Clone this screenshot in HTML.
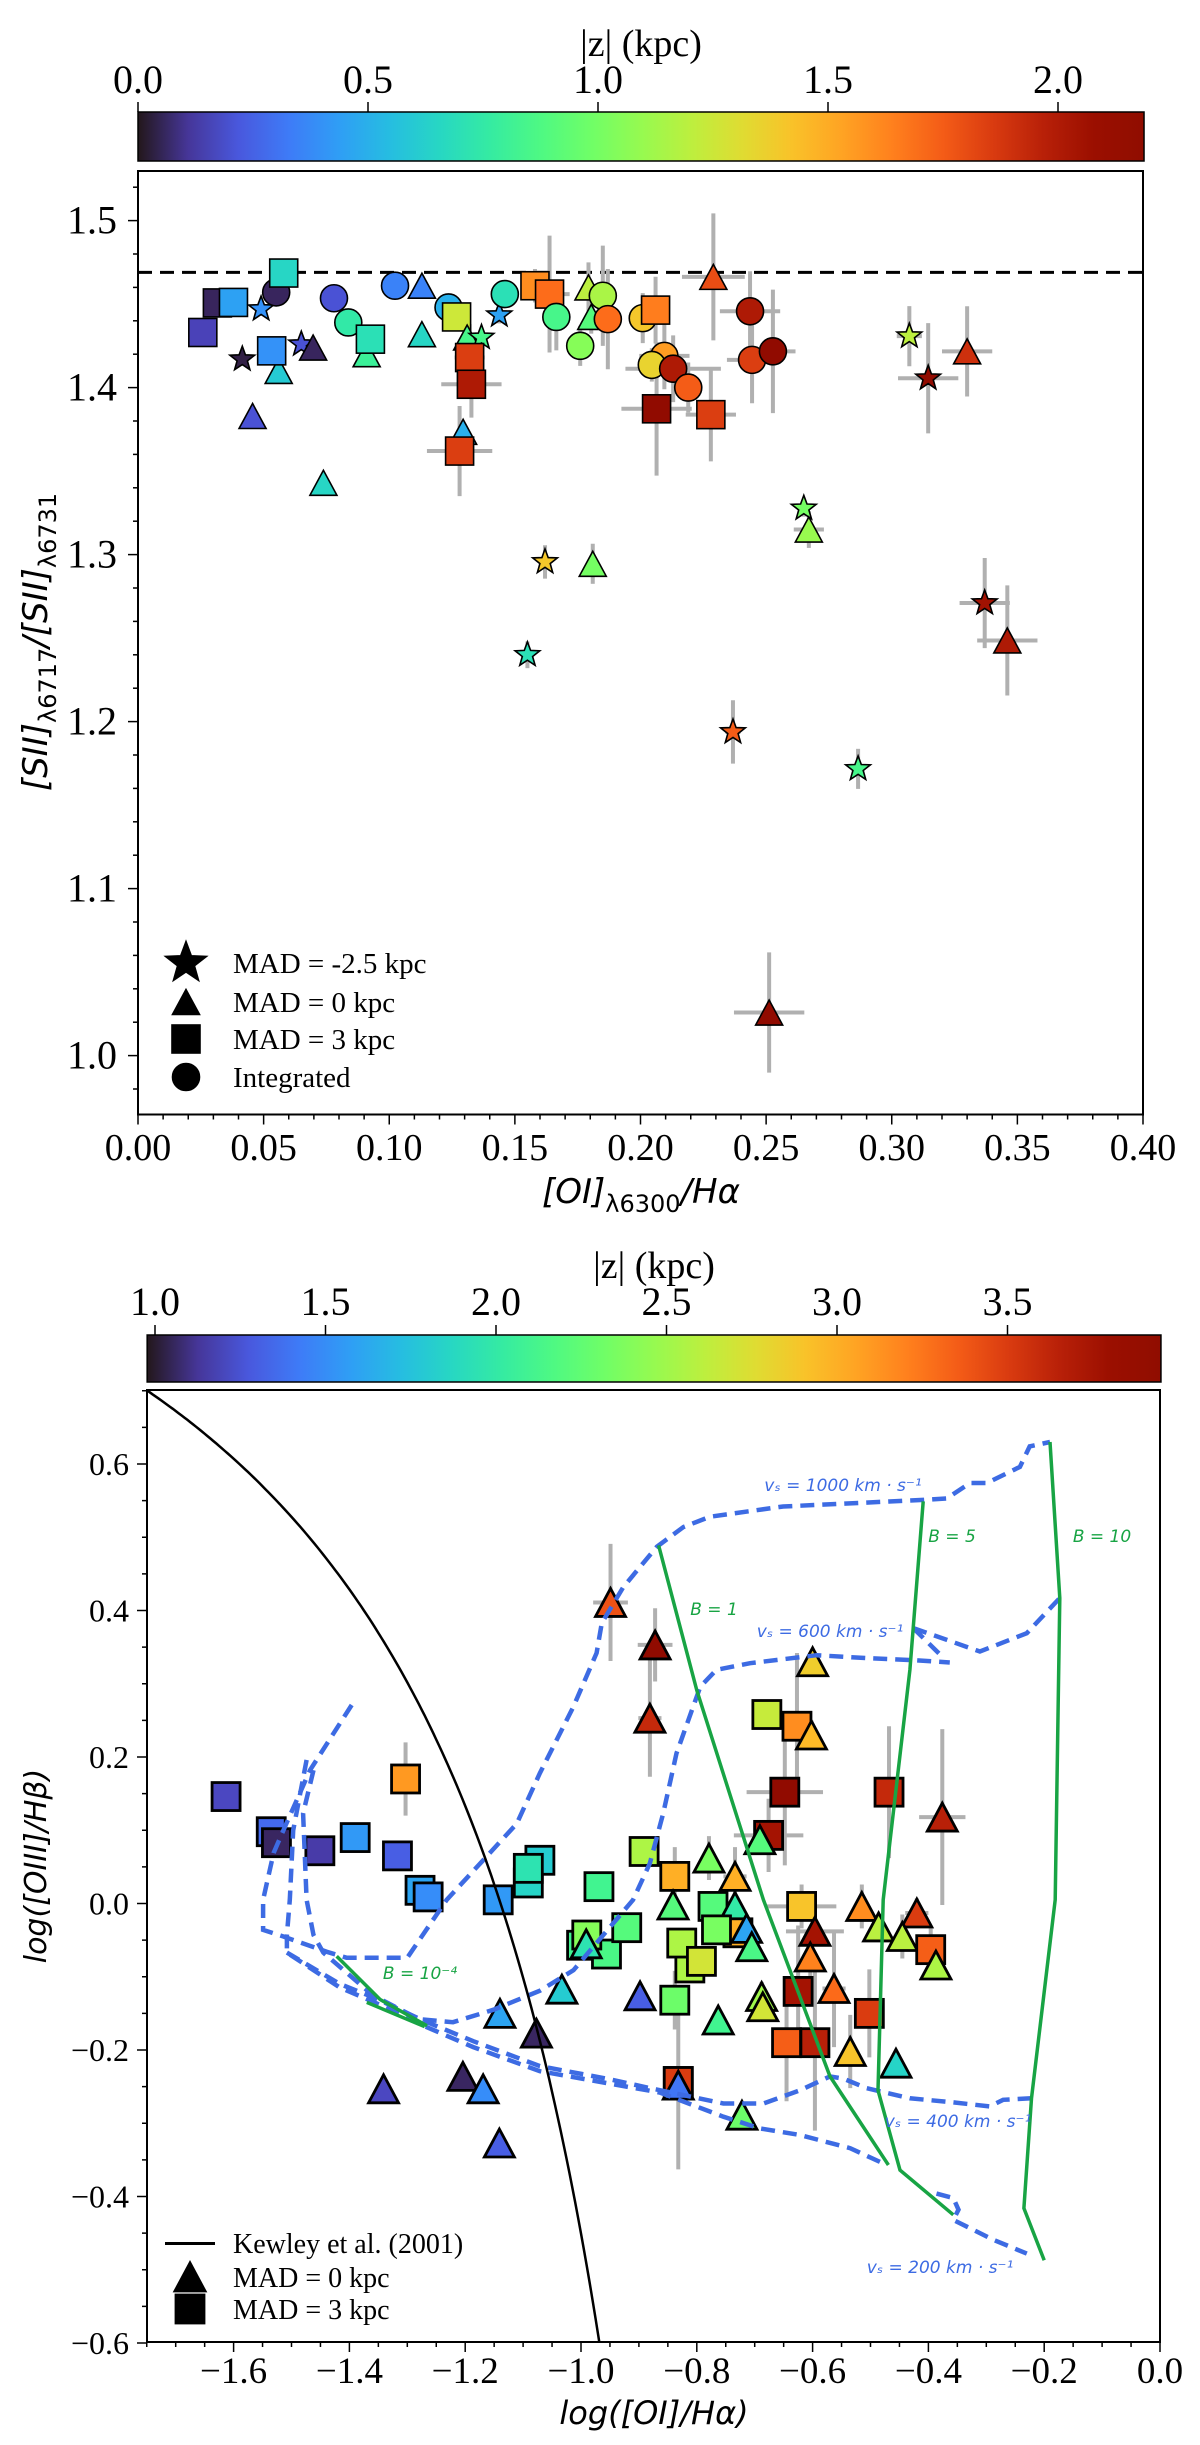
<!DOCTYPE html>
<html><head><meta charset="utf-8"><title>[SII] ratio and [OI]/Ha diagnostics</title>
<style>html,body{margin:0;padding:0;background:#fff}svg{display:block}</style></head>
<body>
<svg id="fig" xmlns="http://www.w3.org/2000/svg" width="1200" height="2445" viewBox="0 0 1200 2445">
<defs>
<linearGradient id="cb1" x1="0" x2="1" y1="0" y2="0"></linearGradient>
<linearGradient id="cb2" x1="0" x2="1" y1="0" y2="0"></linearGradient>
<clipPath id="clip1"><rect x="138" y="171" width="1005" height="943.5"/></clipPath>
<clipPath id="clip2"><rect x="147" y="1390" width="1013" height="952"/></clipPath>
</defs>
</svg>
<script>
// ---------- Panel 1 data ----------
const p1Shape = ['s','s','s','*','o','s','*','^','s','*','^','^','o','o','^','s','^','o','^','^','o','s','^','*','^','s','s','s','*','o','s','s','o','o','^','^','*','^','*','o','o','o','s','^','o','o','o','o','o','o','o','s','s','*','*','^','*','^','*','^','*','*','^'];
const p1X = [0.0258,0.0316,0.038,0.049,0.055,0.058,0.0415,0.056,0.0532,0.065,0.0697,0.0456,0.078,0.0837,0.091,0.0925,0.0738,0.1023,0.113,0.113,0.1236,0.1268,0.131,0.1367,0.1294,0.132,0.1327,0.128,0.1438,0.146,0.158,0.1638,0.1665,0.176,0.1793,0.1804,0.162,0.181,0.155,0.185,0.187,0.2009,0.206,0.229,0.2436,0.2095,0.2045,0.213,0.219,0.2444,0.2527,0.2064,0.228,0.307,0.3145,0.330,0.265,0.267,0.337,0.346,0.2368,0.2866,0.2512];
const p1Y = [1.433,1.4507,1.451,1.447,1.457,1.4686,1.417,1.41,1.422,1.426,1.424,1.383,1.4535,1.439,1.42,1.429,1.343,1.461,1.461,1.432,1.448,1.4423,1.43,1.43,1.3735,1.418,1.402,1.362,1.4434,1.456,1.461,1.456,1.4423,1.425,1.46,1.4423,1.2956,1.2945,1.24,1.455,1.441,1.4416,1.4464,1.4663,1.4457,1.419,1.4136,1.4113,1.400,1.4166,1.4217,1.3873,1.3838,1.4308,1.4056,1.4217,1.3277,1.315,1.271,1.2486,1.1938,1.1717,1.0258];
const p1Z = [0.15,0.05,0.45,0.4,0.05,0.65,0.03,0.6,0.4,0.2,0.05,0.2,0.2,0.75,0.8,0.7,0.65,0.35,0.35,0.65,0.5,1.25,0.85,0.85,0.5,1.85,2.0,1.85,0.45,0.7,1.6,1.7,0.85,1.05,1.2,0.9,1.4,1.0,0.7,1.15,1.7,1.4,1.65,1.8,2.0,1.55,1.35,2.0,1.75,1.85,2.15,2.15,1.85,1.2,2.15,1.9,1.0,1.1,2.05,2.0,1.75,0.85,2.15];
const p1XErr = [0,0,0,0,0,0,0,0,0,0,0,0,0,0,0,0,0,0,0,0,0,0,0,0,0,0.006,0.012,0.013,0,0,0,0.008,0,0,0,0,0,0,0,0,0,0,0,0.0125,0.012,0.01,0,0.019,0,0.01,0.009,0.014,0.01,0.005,0.012,0.01,0,0.006,0.01,0.012,0.003,0.002,0.014];
const p1YErr = [0.003,0.003,0.003,0.004,0.003,0.003,0.004,0.004,0.004,0.004,0.004,0.004,0.003,0.004,0.004,0.004,0.004,0.003,0.004,0.005,0.004,0.005,0.006,0.006,0.006,0.02,0.02,0.027,0.005,0.006,0.01,0.035,0.02,0.012,0.015,0.01,0.01,0.012,0.008,0.03,0.03,0.015,0.02,0.038,0.024,0.02,0.01,0.02,0.015,0.026,0.037,0.04,0.028,0.018,0.033,0.027,0.005,0.011,0.027,0.033,0.019,0.012,0.036];
const p1XTicks = [0.00,0.05,0.10,0.15,0.20,0.25,0.30,0.35,0.40];
const p1XTickLabels = ['0.00','0.05','0.10','0.15','0.20','0.25','0.30','0.35','0.40'];
const p1YTicks = [1.0,1.1,1.2,1.3,1.4,1.5];
const p1YTickLabels = ['1.0','1.1','1.2','1.3','1.4','1.5'];
const p1RefLine = [1.469];
const cb1Ticks = [0.0,0.5,1.0,1.5,2.0];
const cb1TickLabels = ['0.0','0.5','1.0','1.5','2.0'];

// ---------- Panel 2 data ----------
const p2Shape = ['s','s','s','s','s','s','s','s','s','s','s','s','s','s','^','^','^','s','^','^','^','^','^','^','^','^','s','s','s','s','^','^','s','s','^','s','s','^','s','^','^','s','^','^','s','^','s','^','^','^','^','s','^','s','s','^','^','^','^','s','s','s','s','s','^','^','^','s','^','s','s','s','^','^','s','^','^'];
const p2X = [-1.613,-1.535,-1.526,-1.451,-1.390,-1.317,-1.303,-1.278,-1.264,-1.143,-1.091,-1.071,-1.091,-0.969,-0.949,-0.872,-0.881,-0.891,-1.140,-1.033,-1.077,-1.341,-1.204,-1.169,-1.141,-0.898,-0.999,-0.956,-0.990,-0.921,-0.991,-0.600,-0.679,-0.627,-0.602,-0.648,-0.468,-0.376,-0.676,-0.691,-0.779,-0.838,-0.734,-0.841,-0.772,-0.734,-0.619,-0.515,-0.420,-0.486,-0.445,-0.396,-0.387,-0.729,-0.766,-0.714,-0.705,-0.596,-0.604,-0.812,-0.826,-0.792,-0.838,-0.625,-0.763,-0.688,-0.686,-0.502,-0.563,-0.645,-0.596,-0.832,-0.535,-0.456,-0.832,-0.832,-0.722];
const p2Y = [0.146,0.098,0.083,0.072,0.090,0.065,0.170,0.018,0.009,0.005,0.028,0.059,0.048,0.023,0.411,0.353,0.253,0.071,-0.150,-0.117,-0.177,-0.253,-0.236,-0.253,-0.327,-0.126,-0.057,-0.069,-0.043,-0.033,-0.055,0.330,0.258,0.242,0.230,0.152,0.152,0.118,0.093,0.087,0.062,0.037,0.037,-0.002,-0.004,-0.004,-0.004,-0.004,-0.013,-0.032,-0.045,-0.063,-0.084,-0.040,-0.036,-0.034,-0.059,-0.038,-0.073,-0.088,-0.054,-0.079,-0.132,-0.120,-0.159,-0.127,-0.141,-0.150,-0.116,-0.190,-0.190,-0.243,-0.202,-0.218,-0.243,-0.248,-0.289];
const p2Z = [1.2,1.35,1.05,1.15,1.55,1.3,3.1,1.6,1.5,1.55,1.85,1.8,1.95,2.1,3.4,3.9,3.6,2.55,1.6,1.8,1.05,1.2,1.05,1.5,1.3,1.3,2.1,2.15,2.4,2.2,1.95,2.85,2.65,3.15,2.95,3.9,3.6,3.65,3.75,2.2,2.35,3.0,3.0,2.2,2.2,2.0,2.9,3.15,3.5,2.6,2.6,3.35,2.55,3.0,2.35,1.6,2.15,3.75,3.2,2.55,2.55,2.7,2.3,3.75,2.1,2.5,2.7,3.5,3.3,3.35,3.65,3.5,2.9,1.85,3.5,1.4,2.3];
const p2XErr = [0,0,0,0,0,0,0,0,0,0,0,0,0,0,0.03,0.03,0.02,0,0,0,0,0,0,0,0,0,0,0,0,0,0,0,0,0.02,0,0.066,0.025,0.04,0.06,0,0,0,0.02,0,0,0,0.06,0,0.02,0,0,0.02,0,0,0,0,0,0.05,0,0,0,0,0,0,0,0,0,0.02,0.02,0,0,0,0,0,0,0,0];
const p2YErr = [0,0,0,0,0,0,0.05,0,0,0,0,0,0,0,0.08,0.05,0.08,0,0,0,0,0,0,0,0,0,0,0,0,0,0,0,0.02,0.1,0.02,0.1,0.09,0.12,0.05,0,0.03,0.04,0.04,0,0,0,0.03,0.03,0.02,0,0.03,0.03,0.02,0,0,0,0,0.02,0.03,0.02,0.02,0.02,0.04,0.09,0,0.02,0.02,0.06,0.08,0.08,0.12,0.02,0.05,0,0.12,0,0];
const p2XTicks = [-1.6,-1.4,-1.2,-1.0,-0.8,-0.6,-0.4,-0.2,0.0];
const p2XTickLabels = ['\u22121.6','\u22121.4','\u22121.2','\u22121.0','\u22120.8','\u22120.6','\u22120.4','\u22120.2','0.0'];
const p2YTicks = [-0.6,-0.4,-0.2,0.0,0.2,0.4,0.6];
const p2YTickLabels = ['\u22120.6','\u22120.4','\u22120.2','0.0','0.2','0.4','0.6'];
const cb2Ticks = [1.0,1.5,2.0,2.5,3.0,3.5];
const cb2TickLabels = ['1.0','1.5','2.0','2.5','3.0','3.5'];
// Shock model grid curves (data coordinates)
const modelV1000 = [[-1.396,0.271],[-1.468,0.182],[-1.514,0.100],[-1.531,0.069],[-1.549,0.005],[-1.549,-0.036],[-1.514,-0.045],[-1.439,-0.066],[-1.405,-0.074],[-1.30,-0.074],[-1.232,0.005],[-1.169,0.059],[-1.111,0.109],[-1.071,0.178],[-1.013,0.269],[-0.973,0.342],[-0.964,0.383],[-0.927,0.432],[-0.869,0.487],[-0.823,0.514],[-0.777,0.528],[-0.651,0.542],[-0.409,0.551],[-0.368,0.553],[-0.328,0.574],[-0.299,0.574],[-0.242,0.596],[-0.225,0.624],[-0.190,0.630]];
const modelV600 = [[-1.462,0.182],[-1.480,0.123],[-1.474,0.005],[-1.462,-0.043],[-1.445,-0.067],[-1.36,-0.125],[-1.28,-0.158],[-1.221,-0.162],[-1.151,-0.145],[-1.071,-0.119],[-1.013,-0.091],[-0.910,0.005],[-0.881,0.055],[-0.858,0.123],[-0.835,0.205],[-0.794,0.296],[-0.766,0.319],[-0.708,0.328],[-0.593,0.339],[-0.507,0.335],[-0.420,0.332],[-0.363,0.329]];
const modelV600b = [[-0.426,0.376],[-0.311,0.344],[-0.230,0.369],[-0.173,0.417]];
const modelV600c = [[-0.426,0.376],[-0.380,0.340]];
const modelV400 = [[-1.508,-0.067],[-1.416,-0.110],[-1.359,-0.128],[-1.272,-0.160],[-1.186,-0.188],[-1.071,-0.222],[-0.950,-0.240],[-0.881,-0.252],[-0.754,-0.273],[-0.685,-0.273],[-0.622,-0.255],[-0.570,-0.236],[-0.547,-0.239],[-0.507,-0.252],[-0.432,-0.266],[-0.363,-0.271],[-0.294,-0.277],[-0.271,-0.268],[-0.222,-0.266]];
const modelV200 = [[-1.474,0.196],[-1.497,0.100],[-1.503,0.005],[-1.508,-0.043],[-1.508,-0.067],[-1.416,-0.115],[-1.359,-0.134],[-1.272,-0.167],[-1.186,-0.196],[-1.071,-0.229],[-0.864,-0.258],[-0.754,-0.291],[-0.691,-0.307],[-0.622,-0.316],[-0.535,-0.334],[-0.472,-0.357]];
const modelV200b = [[-0.386,-0.396],[-0.357,-0.402],[-0.348,-0.418],[-0.357,-0.432],[-0.288,-0.459],[-0.230,-0.478]];
const modelB1 = [[-0.866,0.489],[-0.800,0.291],[-0.685,0.005],[-0.570,-0.236],[-0.469,-0.357]];
const modelB5 = [[-0.409,0.549],[-0.432,0.319],[-0.478,0.005],[-0.487,-0.255],[-0.449,-0.364],[-0.357,-0.425]];
const modelB10 = [[-0.190,0.630],[-0.173,0.417],[-0.181,0.005],[-0.222,-0.266],[-0.235,-0.416],[-0.200,-0.487]];
const modelBmin = [[-1.422,-0.072],[-1.347,-0.131],[-1.266,-0.167]];
const modelBmin2 = [[-1.37,-0.135],[-1.27,-0.168]];

// ---------- helpers ----------
const NS = 'http://www.w3.org/2000/svg';
const svg = document.getElementById('fig');
function mk(tag, attrs, parent) {
  const e = document.createElementNS(NS, tag);
  for (const k in attrs) e.setAttribute(k, attrs[k]);
  (parent || svg).appendChild(e);
  return e;
}
function turbo(t) {
  t = Math.max(0, Math.min(1, t));
  const r = 0.13572138 + t*(4.61539260 + t*(-42.66032258 + t*(132.13108234 + t*(-152.94239396 + t*59.28637943))));
  const g = 0.09140261 + t*(2.19418839 + t*(4.84296658 + t*(-14.18503333 + t*(4.27729857 + t*2.82956604))));
  const b = 0.10667330 + t*(12.64194608 + t*(-60.58204836 + t*(110.36276771 + t*(-89.90310912 + t*27.34824973))));
  const c = v => Math.round(255*Math.max(0, Math.min(1, v)));
  return 'rgb(' + c(r) + ',' + c(g) + ',' + c(b) + ')';
}
// axis functions
const X1 = v => 138 + 2512.5*v;
const Y1 = v => 220.6 + (1.5 - v)*1670;
const X2 = v => 1160 + 579*v;
const Y2 = v => 1903.5 - 732.5*v;
const C1 = v => 138 + 460*v;       const C1min = 0, C1max = 2.187;
const C2 = v => 155 + 341*(v - 1); const C2min = 0.977, C2max = 3.95;

function marker(g, shape, cx, cy, fill, big) {
  const sw = big ? 2.8 : 1.6;
  let e;
  if (shape === 's') {
    const h = 14;
    e = mk('rect', {x: cx-h, y: cy-h, width: 2*h, height: 2*h, fill: fill, stroke: '#000', 'stroke-width': sw}, g);
  } else if (shape === 'o') {
    e = mk('circle', {cx: cx, cy: cy, r: 13.5, fill: fill, stroke: '#000', 'stroke-width': sw}, g);
  } else if (shape === '^') {
    const hw = big ? 15 : 13.5, hh = big ? 14 : 12.5;
    e = mk('polygon', {points: (cx)+','+(cy-hh)+' '+(cx-hw)+','+(cy+hh)+' '+(cx+hw)+','+(cy+hh), fill: fill, stroke: '#000', 'stroke-width': sw, 'stroke-linejoin': 'miter'}, g);
  } else {
    const ro = 13, ri = 5.4; let pts = [];
    for (let i = 0; i < 10; i++) {
      const a = -Math.PI/2 + i*Math.PI/5, r = i%2 ? ri : ro;
      pts.push((cx + r*Math.cos(a)).toFixed(1) + ',' + (cy + r*Math.sin(a)).toFixed(1));
    }
    e = mk('polygon', {points: pts.join(' '), fill: fill, stroke: '#000', 'stroke-width': sw}, g);
  }
  return e;
}
function txt(s, attrs, parent) { const t = mk('text', attrs, parent); t.textContent = s; return t; }

// ---------- Colorbar 1 ----------
(function(){
  const gr = document.getElementById('cb1');
  for (let i = 0; i <= 20; i++) mk('stop', {offset: (i/20), 'stop-color': turbo(i/20)}, gr);
  const g = mk('g', {});
  
  
  mk('rect', {x: C1(C1min), y: 112, width: C1(C1max)-C1(C1min), height: 49, fill: 'url(#cb1)', stroke: '#000', 'stroke-width': 1.5}, g);
  cb1Ticks.forEach((v, i) => {
    mk('line', {x1: C1(v), x2: C1(v), y1: 112, y2: 102, stroke: '#000', 'stroke-width': 1.5}, g);
    const t = txt(cb1TickLabels[i], {x: C1(v), y: 93, 'text-anchor': 'middle', 'font-family': 'Liberation Serif, serif', 'font-size': 40}, g);
    
    
  });
  const ti = txt('|z| (kpc)', {x: 641, y: 56, 'text-anchor': 'middle', 'font-family': 'Liberation Serif, serif', 'font-size': 38}, g);
  
  
})();

// ---------- Panel 1 ----------
(function(){
  const g = mk('g', {});
  
  
  mk('rect', {x: 138, y: 171, width: 1005, height: 943.5, fill: '#fff', stroke: 'none'}, g);
  const rl = mk('line', {x1: 138, x2: 1143, y1: Y1(p1RefLine[0]), y2: Y1(p1RefLine[0]), stroke: '#000', 'stroke-width': 3, 'stroke-dasharray': '14 8'}, g);
  
  
  const eg = mk('g', {'clip-path': 'url(#clip1)', stroke: '#b0b0b0', 'stroke-width': 4}, g);
  
  
  for (let i = 0; i < p1X.length; i++) {
    if (p1XErr[i] > 0) mk('line', {x1: X1(p1X[i]-p1XErr[i]), x2: X1(p1X[i]+p1XErr[i]), y1: Y1(p1Y[i]), y2: Y1(p1Y[i])}, eg);
    if (p1YErr[i] > 0) mk('line', {x1: X1(p1X[i]), x2: X1(p1X[i]), y1: Y1(p1Y[i]-p1YErr[i]), y2: Y1(p1Y[i]+p1YErr[i])}, eg);
  }
  const mg = mk('g', {'clip-path': 'url(#clip1)'}, g);
  
  
  for (let i = 0; i < p1X.length; i++) {
    const m = marker(mg, p1Shape[i], X1(p1X[i]), Y1(p1Y[i]), turbo((p1Z[i]-C1min)/(C1max-C1min)), false);
    
    
  }
  mk('rect', {x: 138, y: 171, width: 1005, height: 943.5, fill: 'none', stroke: '#000', 'stroke-width': 2}, g);
  for (let k = 0; k <= 40; k++) {
    const v = k/100, major = k%5 === 0;
    mk('line', {x1: X1(v), x2: X1(v), y1: 1114.5, y2: 1114.5 + (major ? 10 : 5), stroke: '#000', 'stroke-width': 1.5}, g);
  }
  p1XTicks.forEach((v, i) => {
    const t = txt(p1XTickLabels[i], {x: X1(v), y: 1160, 'text-anchor': 'middle', 'font-family': 'Liberation Serif, serif', 'font-size': 38}, g);
    
    
  });
  for (let k = 48; k <= 76; k++) {
    const v = k/50, major = k%5 === 0;
    if (Y1(v) < 171 || Y1(v) > 1114.5) continue;
    mk('line', {x1: 138 - (major ? 10 : 5), x2: 138, y1: Y1(v), y2: Y1(v), stroke: '#000', 'stroke-width': 1.5}, g);
  }
  p1YTicks.forEach((v, i) => {
    const t = txt(p1YTickLabels[i], {x: 117, y: Y1(v) + 13, 'text-anchor': 'end', 'font-family': 'Liberation Serif, serif', 'font-size': 40}, g);
    
    
  });
  const xl = mk('text', {x: 641, y: 1203, 'text-anchor': 'middle', 'font-family': 'DejaVu Sans, sans-serif', 'font-size': 34, 'font-style': 'italic'}, g);
  
  
  xl.innerHTML = '[OI]<tspan font-size="24" font-style="normal" dy="9">\u03bb6300</tspan><tspan dy="-9">/H\u03b1</tspan>';
  const yl = mk('text', {x: 0, y: 0, 'text-anchor': 'middle', 'font-family': 'DejaVu Sans, sans-serif', 'font-size': 34, 'font-style': 'italic', transform: 'translate(47,642) rotate(-90)'}, g);
  
  
  yl.innerHTML = '[SII]<tspan font-size="24" font-style="normal" dy="9">\u03bb6717</tspan><tspan dy="-9">/[SII]</tspan><tspan font-size="24" font-style="normal" dy="9">\u03bb6731</tspan>';
  const lg = mk('g', {}, g);
  
  
  const legShapes = ['*','^','s','o'], legText = ['MAD = -2.5 kpc','MAD = 0 kpc','MAD = 3 kpc','Integrated'], legY = [963,1002,1039,1077];
  legShapes.forEach((s, i) => {
    const m = marker(lg, s, 186, legY[i], '#000', false);
    if (s === '*') { m.setAttribute('transform', 'translate(186,'+legY[i]+') scale(1.55) translate(-186,-'+legY[i]+')'); }
    
    
    const t = txt(legText[i], {x: 233, y: legY[i] + 10, 'font-family': 'Liberation Serif, serif', 'font-size': 29}, lg);
    
    
  });
})();

// ---------- Colorbar 2 ----------
(function(){
  const gr = document.getElementById('cb2');
  for (let i = 0; i <= 20; i++) mk('stop', {offset: (i/20), 'stop-color': turbo(i/20)}, gr);
  const g = mk('g', {});
  
  
  mk('rect', {x: C2(C2min), y: 1335, width: C2(C2max)-C2(C2min), height: 47, fill: 'url(#cb2)', stroke: '#000', 'stroke-width': 1.5}, g);
  cb2Ticks.forEach((v, i) => {
    mk('line', {x1: C2(v), x2: C2(v), y1: 1335, y2: 1325, stroke: '#000', 'stroke-width': 1.5}, g);
    const t = txt(cb2TickLabels[i], {x: C2(v), y: 1315, 'text-anchor': 'middle', 'font-family': 'Liberation Serif, serif', 'font-size': 40}, g);
    
    
  });
  const ti = txt('|z| (kpc)', {x: 654, y: 1278, 'text-anchor': 'middle', 'font-family': 'Liberation Serif, serif', 'font-size': 38}, g);
  
  
})();

// ---------- Panel 2 ----------
(function(){
  const g = mk('g', {});
  
  
  const eg = mk('g', {'clip-path': 'url(#clip2)', stroke: '#b0b0b0', 'stroke-width': 4}, g);
  
  
  for (let i = 0; i < p2X.length; i++) {
    if (p2XErr[i] > 0) mk('line', {x1: X2(p2X[i]-p2XErr[i]), x2: X2(p2X[i]+p2XErr[i]), y1: Y2(p2Y[i]), y2: Y2(p2Y[i])}, eg);
    if (p2YErr[i] > 0) mk('line', {x1: X2(p2X[i]), x2: X2(p2X[i]), y1: Y2(p2Y[i]-p2YErr[i]), y2: Y2(p2Y[i]+p2YErr[i])}, eg);
  }
  const mg = mk('g', {'clip-path': 'url(#clip2)'}, g);
  
  
  for (let i = 0; i < p2X.length; i++) {
    const m = marker(mg, p2Shape[i], X2(p2X[i]), Y2(p2Y[i]), turbo((p2Z[i]-C2min)/(C2max-C2min)), true);
    
    
  }
  const lg = mk('g', {'clip-path': 'url(#clip2)', fill: 'none'}, g);
  
  
  const path = arr => arr.map((p, i) => (i ? 'L' : 'M') + X2(p[0]).toFixed(1) + ',' + Y2(p[1]).toFixed(1)).join(' ');
  [modelV1000, modelV600, modelV600b, modelV600c, modelV400, modelV200, modelV200b].forEach(c => {
    const p = mk('path', {d: path(c), stroke: '#3d6be3', 'stroke-width': 4.5, 'stroke-dasharray': '14 8'}, lg);
    
    
  });
  [modelB1, modelB5, modelB10, modelBmin, modelBmin2].forEach(c => {
    const p = mk('path', {d: path(c), stroke: '#18a444', 'stroke-width': 3.5}, lg);
    
    
  });
  let kp = [];
  for (let x = -1.755; x <= -0.95; x += 0.005) { const y = 0.73/(x+0.59)+1.33; if (y < -0.62) break; kp.push([x, y]); }
  const kw = mk('path', {d: path(kp), stroke: '#000', 'stroke-width': 2.5}, lg);
  
  
  const ml = [['v\u209b = 1000 km \u00b7 s\u207b\u00b9', 843, 1491, '#3d6be3'], ['v\u209b = 600 km \u00b7 s\u207b\u00b9', 830, 1637, '#3d6be3'], ['v\u209b = 400 km \u00b7 s\u207b\u00b9', 958, 2127, '#3d6be3'], ['v\u209b = 200 km \u00b7 s\u207b\u00b9', 940, 2273, '#3d6be3'], ['B = 5', 952, 1542, '#18a444'], ['B = 10', 1102, 1542, '#18a444'], ['B = 1', 714, 1615, '#18a444'], ['B = 10\u207b\u2074', 420, 1979, '#18a444']];
  ml.forEach(m => {
    const t = txt(m[0], {x: m[1], y: m[2], 'text-anchor': 'middle', 'font-family': 'DejaVu Sans, sans-serif', 'font-size': 17, 'font-style': 'italic', fill: m[3]}, g);
    
    
  });
  mk('rect', {x: 147, y: 1390, width: 1013, height: 952, fill: 'none', stroke: '#000', 'stroke-width': 2}, g);
  for (let k = -35; k <= 0; k++) {
    const v = k/20, major = k%4 === 0;
    if (X2(v) < 146) continue;
    mk('line', {x1: X2(v), x2: X2(v), y1: 2342, y2: 2342 + (major ? 10 : 5), stroke: '#000', 'stroke-width': 1.5}, g);
  }
  p2XTicks.forEach((v, i) => {
    const t = txt(p2XTickLabels[i], {x: X2(v), y: 2383, 'text-anchor': 'middle', 'font-family': 'Liberation Serif, serif', 'font-size': 37}, g);
    
    
  });
  for (let k = -12; k <= 14; k++) {
    const v = k/20, major = k%4 === 0;
    mk('line', {x1: 147 - (major ? 10 : 5), x2: 147, y1: Y2(v), y2: Y2(v), stroke: '#000', 'stroke-width': 1.5}, g);
  }
  p2YTicks.forEach((v, i) => {
    const t = txt(p2YTickLabels[i], {x: 129, y: Y2(v) + 11, 'text-anchor': 'end', 'font-family': 'Liberation Serif, serif', 'font-size': 32}, g);
    
    
  });
  const xl = txt('log([OI]/H\u03b1)', {x: 654, y: 2424, 'text-anchor': 'middle', 'font-family': 'DejaVu Sans, sans-serif', 'font-size': 32, 'font-style': 'italic'}, g);
  
  
  const yl = txt('log([OIII]/H\u03b2)', {x: 0, y: 0, 'text-anchor': 'middle', 'font-family': 'DejaVu Sans, sans-serif', 'font-size': 30, 'font-style': 'italic', transform: 'translate(46,1866) rotate(-90)'}, g);
  
  
  const lgd = mk('g', {}, g);
  
  
  const ln = mk('line', {x1: 165, x2: 215, y1: 2243.5, y2: 2243.5, stroke: '#000', 'stroke-width': 3}, lgd);
  
  
  const m1 = marker(lgd, '^', 190, 2277, '#000', true);
  
  
  const m2 = marker(lgd, 's', 190, 2309, '#000', true);
  
  
  [['Kewley et al. (2001)', 2253], ['MAD = 0 kpc', 2287], ['MAD = 3 kpc', 2319]].forEach(e => {
    const t = txt(e[0], {x: 233, y: e[1], 'font-family': 'Liberation Serif, serif', 'font-size': 28}, lgd);
    
    
  });
})();
</script>
</body></html>
